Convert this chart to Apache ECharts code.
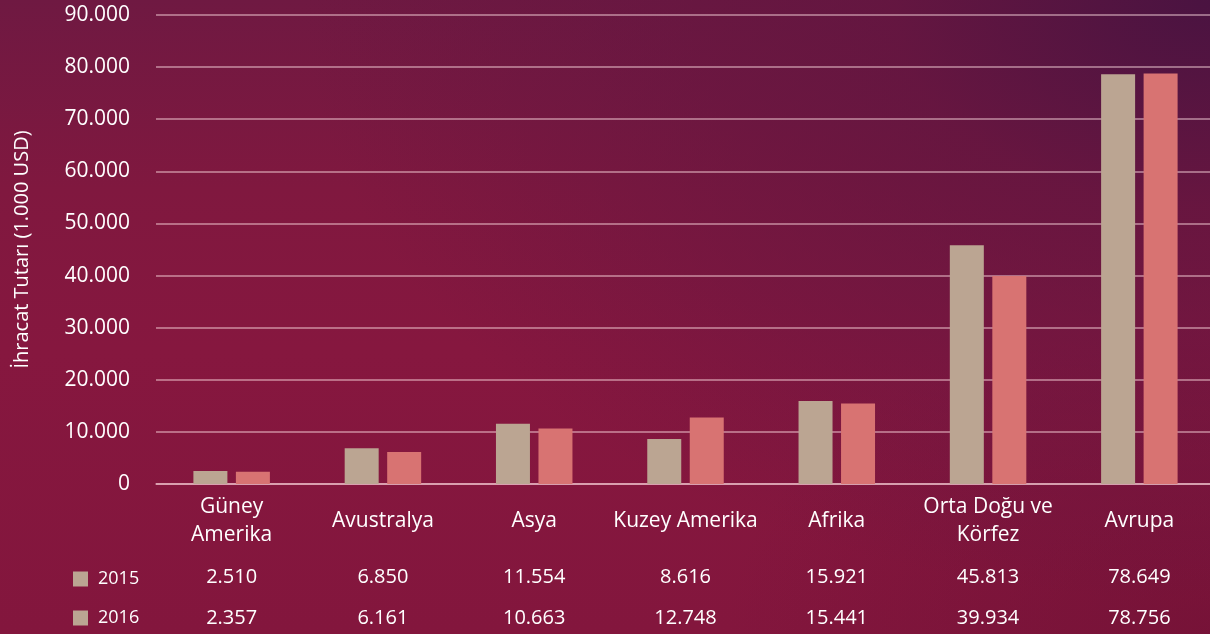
<!DOCTYPE html>
<html><head><meta charset="utf-8">
<script src="https://cdn.jsdelivr.net/npm/echarts@6/dist/echarts.min.js"></script>
<style>html,body{margin:0;padding:0;background:#7e1640;}
#c{width:1210px;height:634px;
background:
 radial-gradient(ellipse 75% 95% at 100% 0%, rgba(74,19,65,1) 0%, rgba(96,21,64,0.75) 35%, rgba(134,23,63,0) 100%),
 radial-gradient(ellipse 40% 50% at 100% 100%, rgba(110,16,52,0.6) 0%, rgba(110,16,52,0) 100%),
 linear-gradient(to bottom, #6f1942 0%, #80183f 30%, #86173f 55%, #83163d 100%);}
</style>
</head><body><div id="c"></div>
<script>
const categories = ['Güney\nAmerika','Avustralya','Asya','Kuzey Amerika','Afrika','Orta Doğu ve\nKörfez','Avrupa'];
const years = ['2015','2016'];
const values2015 = [2510, 6850, 11554, 8616, 15921, 45813, 78649];
const values2016 = [2357, 6161, 10663, 12748, 15441, 39934, 78756];
const yTicks = {min:0, max:90000, interval:10000};
const yName = 'İhracat Tutarı (1.000 USD)';

const FONT = '"Open Sans", sans-serif';
const fmt = v => String(v).replace(/\B(?=(\d{3})+(?!\d))/g, '.');
const C15 = '#bba592', C16 = '#d87372';
const legendBase = {orient:'vertical', left:73, itemWidth:15, itemHeight:15, icon:'rect', padding:0,
  selectedMode:false, textStyle:{color:'#fff',fontSize:18,fontFamily:FONT,padding:[0,0,0,5]}};

const chart = echarts.init(document.getElementById('c'));
chart.setOption({
  animation:false,
  backgroundColor:'transparent',
  textStyle:{fontFamily:FONT},
  grid:{left:156,width:1059,top:15,height:469,containLabel:false,outerBoundsMode:'none'},
  legend:[
    Object.assign({}, legendBase, {top:570, data:[{name:years[0],itemStyle:{color:C15}}]}),
    Object.assign({}, legendBase, {top:609, data:[{name:years[1],itemStyle:{color:C15}}]})
  ],
  xAxis:[
    {type:'category',data:categories,gridIndex:0,position:'bottom',
     axisLine:{show:true,lineStyle:{color:'rgba(255,220,225,0.6)',width:1.5}},axisTick:{show:false},
     axisLabel:{color:'#fff',fontSize:21,fontFamily:FONT,margin:37,verticalAlign:'middle',lineHeight:28,interval:0}},
    {type:'category',data:values2015.map(fmt),gridIndex:0,position:'bottom',
     axisLine:{show:false},axisTick:{show:false},
     axisLabel:{color:'#fff',fontSize:20,fontFamily:FONT,margin:93,verticalAlign:'middle',interval:0}},
    {type:'category',data:values2016.map(fmt),gridIndex:0,position:'bottom',
     axisLine:{show:false},axisTick:{show:false},
     axisLabel:{color:'#fff',fontSize:20,fontFamily:FONT,margin:134,verticalAlign:'middle',interval:0}}
  ],
  yAxis:{type:'value',min:yTicks.min,max:yTicks.max,interval:yTicks.interval,
    name:yName,nameLocation:'middle',nameGap:124,nameRotate:90,
    nameTextStyle:{color:'#fff',fontSize:20,fontFamily:FONT},
    axisLine:{show:false},axisTick:{show:false},
    axisLabel:{color:'#fff',fontSize:21,fontFamily:FONT,margin:26,formatter:v=>fmt(v)},
    splitLine:{lineStyle:{color:'rgba(255,220,225,0.6)',width:1.5}}},
  series:[
    {name:years[0],type:'bar',xAxisIndex:0,data:values2015,barWidth:34,barGap:'25%',itemStyle:{color:C15}},
    {name:years[1],type:'bar',xAxisIndex:0,data:values2016,barWidth:34,barGap:'25%',itemStyle:{color:C16}}
  ]
});
</script></body></html>
